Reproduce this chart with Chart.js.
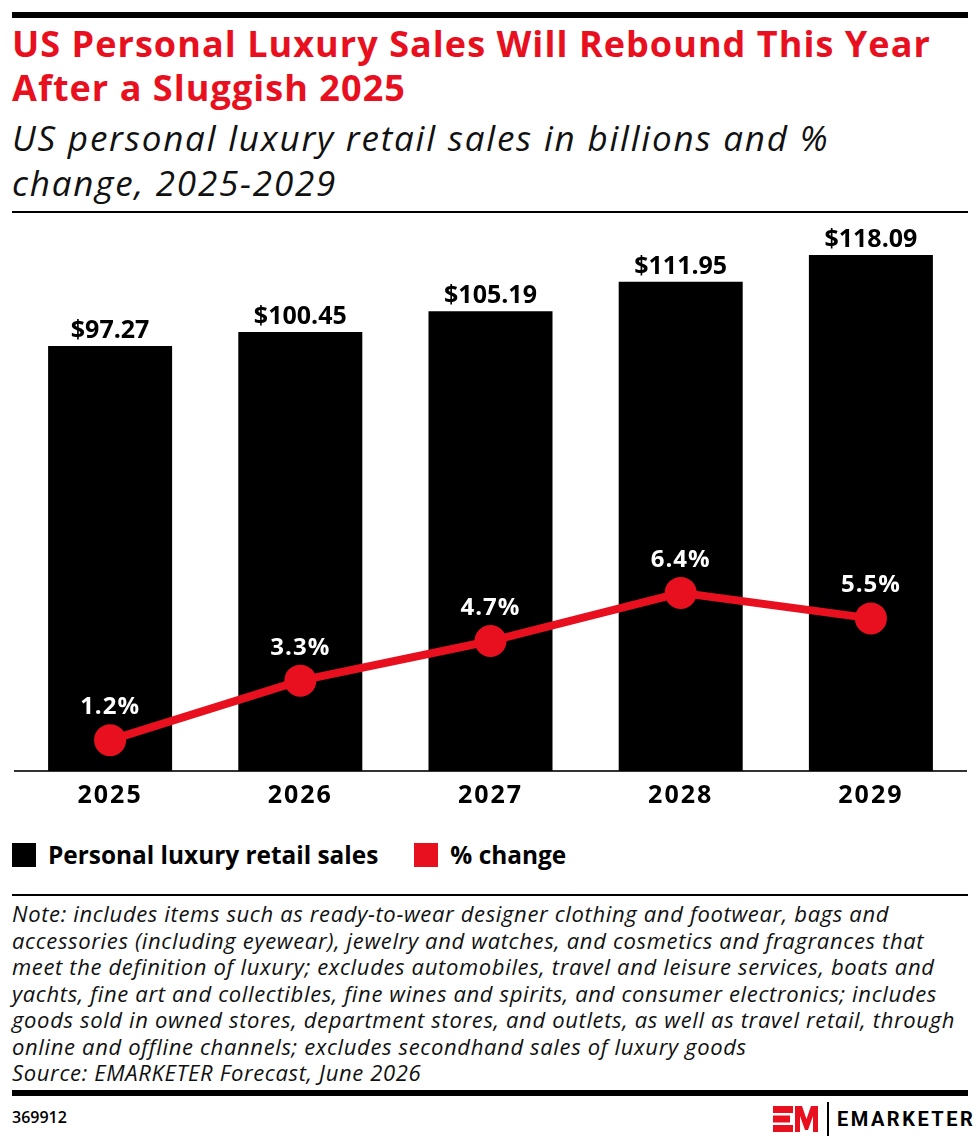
<!DOCTYPE html>
<html>
<head>
<meta charset="utf-8">
<script src="https://cdn.jsdelivr.net/npm/chart.js@4.4.1/dist/chart.umd.min.js"></script>
<style>
  body { margin: 0; background: #fff; font-family: "Open Sans", "Liberation Sans", sans-serif; }
  #page { position: relative; width: 980px; height: 1148px; overflow: hidden; }
  .rule { position: absolute; left: 12px; width: 956px; background: #000; }
  #title { position: absolute; left: 12px; top: 22px; font-size: 36px; font-weight: 700; color: #e8101e; line-height: 44px; letter-spacing: 1.05px; }
  #subtitle { position: absolute; left: 12px; top: 115px; font-size: 35px; font-style: italic; line-height: 45px; color: #111; letter-spacing: 1.8px; }
  #chartBox { position: absolute; left: 0; top: 216px; width: 980px; height: 605px; }
  #legend { position: absolute; left: 12px; top: 838px; font-size: 24.4px; font-weight: 700; display: flex; align-items: center; }
  .sw { width: 24px; height: 24px; display: inline-block; margin-right: 12px; }
  #note { position: absolute; left: 12px; top: 900px; font-size: 22px; font-style: italic; line-height: 26.5px; color: #111; letter-spacing: 0.65px; }
  #id { position: absolute; left: 12px; top: 1106px; font-size: 16px; font-weight: 600; }
  #logo { position: absolute; left: 773px; top: 1102px; display: flex; align-items: center; }
</style>
</head>
<body>
<div id="page">
  <div class="rule" style="top:12px;height:6px"></div>
  <div id="title">US Personal Luxury Sales Will Rebound This Year<br>After a Sluggish 2025</div>
  <div id="subtitle">US personal luxury retail sales in billions and %<br>change, 2025-2029</div>
  <div class="rule" style="top:211px;height:2px"></div>
  <div id="chartBox"><canvas id="chart"></canvas></div>
  <div id="legend">
    <span class="sw" style="background:#000"></span><span>Personal luxury retail sales</span>
    <span class="sw" style="background:#e8101e;margin-left:36px"></span><span>% change</span>
  </div>
  <div class="rule" style="top:894px;height:2px"></div>
  <div id="note">Note: includes items such as ready-to-wear designer clothing and footwear, bags and<br>accessories (including eyewear), jewelry and watches, and cosmetics and fragrances that<br>meet the definition of luxury; excludes automobiles, travel and leisure services, boats and<br>yachts, fine art and collectibles, fine wines and spirits, and consumer electronics; includes<br>goods sold in owned stores, department stores, and outlets, as well as travel retail, through<br>online and offline channels; excludes secondhand sales of luxury goods<br>Source: EMARKETER Forecast, June 2026</div>
  <div class="rule" style="top:1090px;height:6px"></div>
  <div id="id">369912</div>
  <div id="logo">
    <svg width="45" height="26" viewBox="0 0 45 26">
      <g fill="#e8101e">
        <rect x="0" y="0" width="20" height="7"/>
        <rect x="0" y="9.5" width="17" height="7"/>
        <rect x="0" y="19" width="20" height="7"/>
        <polygon points="22,26 22,0 29,0 33.5,13 38,0 45,0 45,26 40,26 40,10 35,24 32,24 27,10 27,26"/>
      </g>
    </svg>
    <span style="width:2px;height:34px;background:#000;margin:0 8px 0 9px;"></span>
    <span style="font-family:Roboto;font-weight:700;font-size:20px;letter-spacing:2.5px;">EMARKETER</span>
  </div>
</div>
<script>
const years = ['2025', '2026', '2027', '2028', '2029'];
const sales = [97.27, 100.45, 105.19, 111.95, 118.09];
const pctChange = [1.2, 3.3, 4.7, 6.4, 5.5];

const red = '#e8101e';
const font = '"Open Sans", sans-serif';

const spacing = {
  id: 'spacing',
  beforeDraw(chart) {
    chart.ctx.letterSpacing = '2px';
  }
};

const valueLabels = {
  id: 'valueLabels',
  afterDatasetsDraw(chart) {
    const ctx = chart.ctx;
    ctx.save();
    ctx.letterSpacing = '0px';
    ctx.textAlign = 'center';
    ctx.textBaseline = 'alphabetic';
    ctx.font = 'bold 25px ' + font;
    chart.getDatasetMeta(1).data.forEach((bar, i) => {
      ctx.fillStyle = '#000';
      ctx.fillText('$' + sales[i].toFixed(2), bar.x, bar.y - 8);
    });
    ctx.font = 'bold 24px ' + font;
    ctx.letterSpacing = '1px';
    chart.getDatasetMeta(0).data.forEach((pt, i) => {
      ctx.fillStyle = '#fff';
      ctx.fillText(pctChange[i].toFixed(1) + '%', pt.x, pt.y - 26);
    });
    ctx.restore();
  }
};

new Chart(document.getElementById('chart'), {
  data: {
    labels: years,
    datasets: [
      {
        type: 'line',
        label: '% change',
        data: pctChange,
        yAxisID: 'yPct',
        borderColor: red,
        backgroundColor: red,
        borderWidth: 8,
        pointRadius: 12,
        pointHoverRadius: 12,
        order: 0
      },
      {
        type: 'bar',
        label: 'Personal luxury retail sales',
        data: sales,
        yAxisID: 'ySales',
        backgroundColor: '#000',
        categoryPercentage: 0.652,
        barPercentage: 1,
        order: 1
      }
    ]
  },
  options: {
    responsive: true,
    maintainAspectRatio: false,
    animation: false,
    layout: { autoPadding: false, padding: { left: 15, right: 14, top: 0, bottom: 0 } },
    plugins: { legend: { display: false }, tooltip: { enabled: false } },
    scales: {
      x: {
        grid: { display: false, drawTicks: false },
        border: { display: true, color: '#333', width: 2 },
        ticks: { color: '#000', font: { size: 25, weight: 'bold', family: font }, padding: 10 }
      },
      ySales: { display: false, min: 0, max: 127 },
      yPct: { display: false, min: 0.11, max: 19.71 }
    }
  },
  plugins: [spacing, valueLabels]
});
</script>
</body>
</html>
